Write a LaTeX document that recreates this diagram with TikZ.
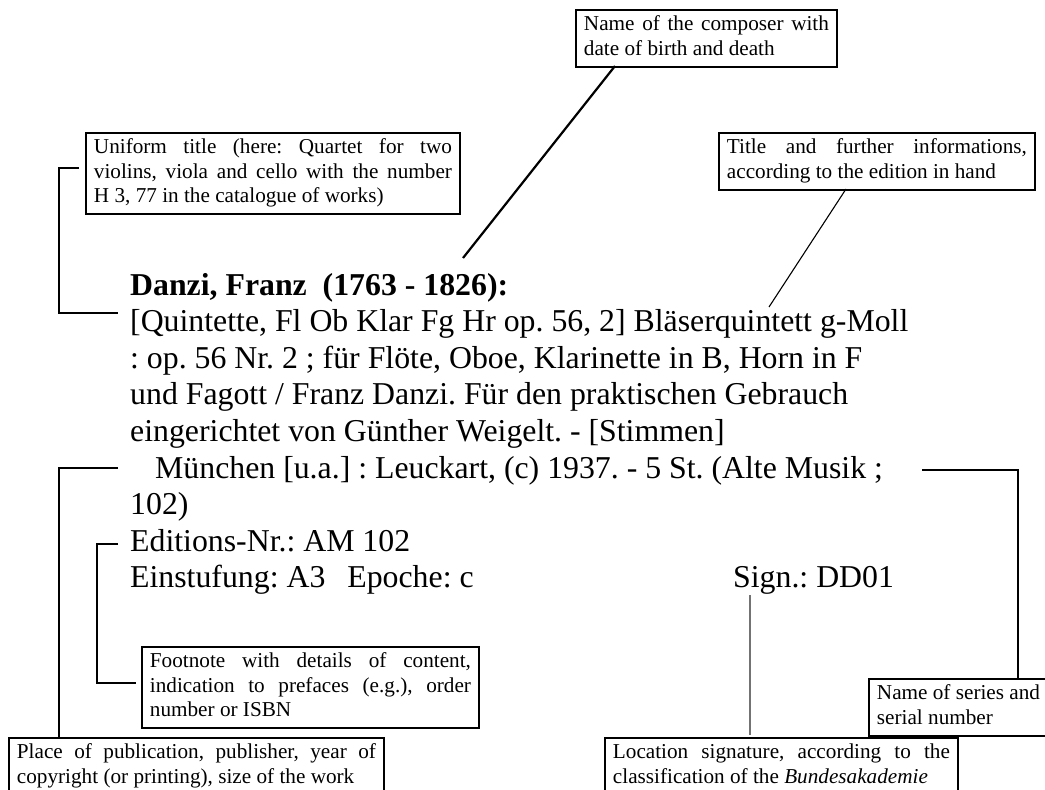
\documentclass[tikz,border=0pt]{standalone}
\usepackage{fontspec}
\setmainfont{Liberation Serif}
\hyphenpenalty=10000
\exhyphenpenalty=10000
\frenchspacing
\newcommand{\lstr}{\rule[-5.5pt]{0pt}{20pt}}
\begin{document}
\begin{tikzpicture}[x=1pt,y=-1pt,
  lbl/.style={draw, line width=1.9pt, anchor=north west, text width=#1,
    inner xsep=8pt, inner ysep=0pt, align=justify,
    font=\fontsize{21.2}{24.4}\selectfont\frenchspacing},
  mainline/.style={anchor=base west, inner sep=0pt,
    font=\fontsize{31.8}{36.6}\selectfont\frenchspacing},
  conn/.style={line width=1.3pt},
  thickconn/.style={line width=2.2pt},
  thinconn/.style={line width=1.1pt},
  signconn/.style={line width=1.1pt, draw=black!55}
]
\fill[white] (0,0) rectangle (1045,790);
\begin{scope}
\clip (0,0) rectangle (1045,790);

% label boxes
\node[lbl=245pt, minimum height=57pt] (comp) at (575,9)
  {\lstr Name of the composer with\linebreak date of birth and death\lstr};
\node[lbl=300pt, minimum height=57pt] (title) at (718,132)
  {\lstr Title and further informations,\linebreak according to the edition in hand\lstr};
\node[lbl=358pt, minimum height=81pt] (unif) at (85,132)
  {\lstr Uniform title (here: Quartet for two\linebreak violins, viola and cello with the number\linebreak H 3, 77 in the catalogue of works)\lstr};
\node[lbl=321pt, minimum height=81pt] (foot) at (141,646)
  {\lstr Footnote with details of content,\linebreak indication to prefaces (e.g.), order\linebreak number or ISBN\lstr};
\node[lbl=166pt, minimum height=57pt] (series) at (868,678)
  {\lstr Name of series and\newline serial number\lstr};
\node[lbl=359pt, minimum height=57pt] (place) at (8,737)
  {\lstr Place of publication, publisher, year of\linebreak copyright (or printing), size of the work\lstr};
\node[lbl=337pt, minimum height=57pt] (loc) at (604,737)
  {\lstr Location signature, according to the\linebreak classification of the \textit{Bundesakademie}\lstr};

% main record text
\node[mainline, font=\fontsize{31.8}{36.6}\selectfont\bfseries] (l1) at (130,295) {Danzi, Franz\ \ (1763 - 1826):};
\node[mainline] (l2) at (130,331.6) {[Quintette, Fl Ob Klar Fg Hr op. 56, 2] Bläserquintett g-Moll};
\node[mainline] (l3) at (130,368.2) {: op. 56 Nr. 2 ; für Flöte, Oboe, Klarinette in B, Horn in F};
\node[mainline] (l4) at (130,404.8) {und Fagott / Franz Danzi. Für den praktischen Gebrauch};
\node[mainline] (l5) at (130,441.4) {eingerichtet von Günther Weigelt. - [Stimmen]};
\node[mainline] (l6) at (155,478) {München [u.a.] : Leuckart, (c) 1937. - 5 St. (Alte Musik ;};
\node[mainline] (l7) at (130,514.6) {102)};
\node[mainline] (l8) at (130,551.2) {Editions-Nr.: AM 102};
\node[mainline] (l9) at (130,587.8) {Einstufung: A3\hspace{22pt}Epoche: c};
\node[mainline] (sig) at (733,587.8) {Sign.: DD01};

% connector end points
\coordinate (cA) at (615,66);
\coordinate (cB) at (463,258);
\coordinate (tA) at (846,189);
\coordinate (tB) at (769,307);
\coordinate (uA) at (79,168);
\coordinate (uB) at (118,313);
\coordinate (pA) at (118,468);
\coordinate (pB) at (59,737);
\coordinate (fA) at (118,544);
\coordinate (fB) at (136,683);
\coordinate (sA) at (922,470);
\coordinate (sB) at (1018,678);
\coordinate (gA) at (750,595);
\coordinate (gB) at (750,735);

% connectors
\draw[thickconn] (cA) -- (cB);
\draw[thinconn] (tA) -- (tB);
\draw[conn] (uA) -- ++(-20,0) |- (uB);
\draw[conn] (pA) -| (pB);
\draw[conn] (fA) -- ++(-21,0) |- (fB);
\draw[conn] (sA) -| (sB);
\draw[signconn] (gA) -- (gB);
\end{scope}
\pgfresetboundingbox
\useasboundingbox (0,0) rectangle (1045,790);
\end{tikzpicture}
\end{document}
